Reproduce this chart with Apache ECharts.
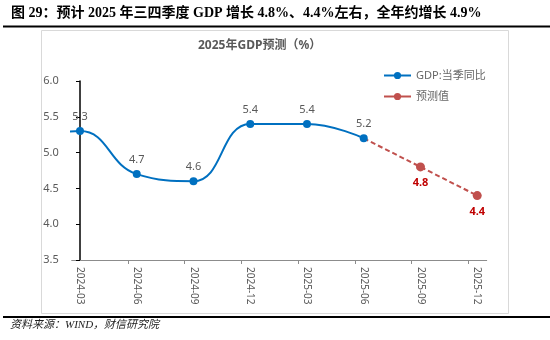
<!DOCTYPE html>
<html>
<head>
<meta charset="utf-8">
<script src="https://cdn.jsdelivr.net/npm/echarts@6/dist/echarts.min.js"></script>
<style>
html,body{margin:0;padding:0;background:#fff;}
#c{width:550px;height:340px;}
</style>
</head>
<body>
<div id="c"></div>
<script>
// ---- data ----
const categories = ['2024-03','2024-06','2024-09','2024-12','2025-03','2025-06','2025-09','2025-12'];
const gdpActual = [5.3, 4.7, 4.6, 5.4, 5.4, 5.2];          // 2024-03 .. 2025-06
const forecastValues = [5.2, 4.8, 4.4];                    // 2025-06 .. 2025-12
const forecastStart = 5;                                   // index of 2025-06
const leadInValue = 5.2;                                   // 2023-12, left of the axis (clipped)
const yTicks = [3.5, 4.0, 4.5, 5.0, 5.5, 6.0];

const headerText = '图 29：预计 2025 年三四季度 GDP 增长 4.8%、4.4%左右，全年约增长 4.9%';
const chartTitle = '2025年GDP预测（%）';
const sourceText = '资料来源：WIND，财信研究院';
const nameActual = 'GDP:当季同比';
const nameForecast = '预测值';

// ---- build ----
const blueData = [{value: [-1, leadInValue], symbol: 'none', label: {show: false}}]
  .concat(gdpActual.map((v, i) => [i, v]));
const redData = forecastValues.map((v, i) => i === 0
  ? {value: [forecastStart, v], symbol: 'none', label: {show: false}}
  : [forecastStart + i, v]);

const tickOffset = 0.155;
const xMin = -0.146, xMax = 7.167;

const chart = echarts.init(document.getElementById('c'), null, {renderer: 'canvas'});
const sans = "'Noto Sans', 'Noto Sans CJK SC', sans-serif";
chart.setOption({
  animation: false,
  backgroundColor: '#fff',
  title: [
    {text: headerText, left: 11, top: 6, padding: 0,
     textStyle: {fontFamily: "'Liberation Serif', 'Noto Sans CJK SC', serif", fontWeight: 'bold', fontSize: 14, color: '#000'}},
    {text: chartTitle, left: 198, top: 40, padding: 0,
     textStyle: {fontFamily: sans, fontWeight: 'bold', fontSize: 12, color: '#595959'}},
    {text: sourceText, left: 10, top: 320, padding: 0,
     textStyle: {fontFamily: "'Liberation Serif', 'Noto Sans CJK SC', serif", fontStyle: 'italic', fontWeight: 'normal', fontSize: 11, color: '#222'}}
  ],
  graphic: [
    {type: 'rect', shape: {x: 41.5, y: 30.5, width: 467, height: 283}, style: {fill: 'none', stroke: '#d9d9d9', lineWidth: 1}, z: -1},
    {type: 'line', shape: {x1: 3, y1: 26.5, x2: 550, y2: 26.5}, style: {stroke: '#000', lineWidth: 2}},
    {type: 'line', shape: {x1: 3, y1: 317, x2: 550, y2: 317}, style: {stroke: '#000', lineWidth: 2}}
  ],
  legend: {
    orient: 'vertical', left: 378, top: 65, itemWidth: 27, itemHeight: 9, itemGap: 10,
    textStyle: {fontFamily: sans, fontSize: 11, color: '#666'},
    data: [
      {name: nameActual},
      {name: nameForecast, lineStyle: {type: 'solid'}}
    ]
  },
  grid: {left: 71.7, right: 63.3, top: 81, bottom: 80, containLabel: false},
  xAxis: {
    type: 'value', min: xMin, max: xMax,
    axisLine: {show: true, lineStyle: {color: '#8c8c8c', width: 1}},
    axisTick: {show: true, inside: false, length: 4, lineStyle: {color: '#8c8c8c'},
               customValues: categories.map((c, i) => i - tickOffset)},
    axisLabel: {show: true, rotate: -90, margin: 7, fontFamily: sans, fontSize: 10, color: '#595959',
                customValues: categories.map((c, i) => i),
                formatter: v => categories[Math.round(v)] || ''},
    splitLine: {show: false}
  },
  yAxis: {
    type: 'value', min: yTicks[0], max: yTicks[yTicks.length - 1], interval: 0.5,
    axisLine: {show: true, lineStyle: {color: '#000', width: 1.5}},
    axisTick: {show: true, length: 4, lineStyle: {color: '#000'}},
    axisLabel: {fontFamily: sans, fontSize: 11, color: '#595959', margin: 13, formatter: v => v.toFixed(1)},
    splitLine: {show: false}
  },
  series: [
    {
      name: nameForecast, type: 'line', data: redData, smooth: false,
      symbol: 'circle', symbolSize: 9, clip: true,
      lineStyle: {color: '#C0504D', width: 2, type: [5, 3]},
      itemStyle: {color: '#C0504D'},
      label: {show: true, position: 'bottom', distance: 6, fontFamily: sans, fontSize: 11, fontWeight: 'bold', color: '#C00000',
              formatter: p => p.value[1].toFixed(1)},
      z: 2
    },
    {
      name: nameActual, type: 'line', data: blueData, smooth: 0.45,
      symbol: 'circle', symbolSize: 8, clip: true,
      lineStyle: {color: '#0070C0', width: 2},
      itemStyle: {color: '#0070C0'},
      label: {show: true, position: 'top', distance: 5, fontFamily: sans, fontSize: 11, color: '#595959',
              formatter: p => p.value[1].toFixed(1)},
      z: 3
    }
  ]
});
</script>
</body>
</html>
